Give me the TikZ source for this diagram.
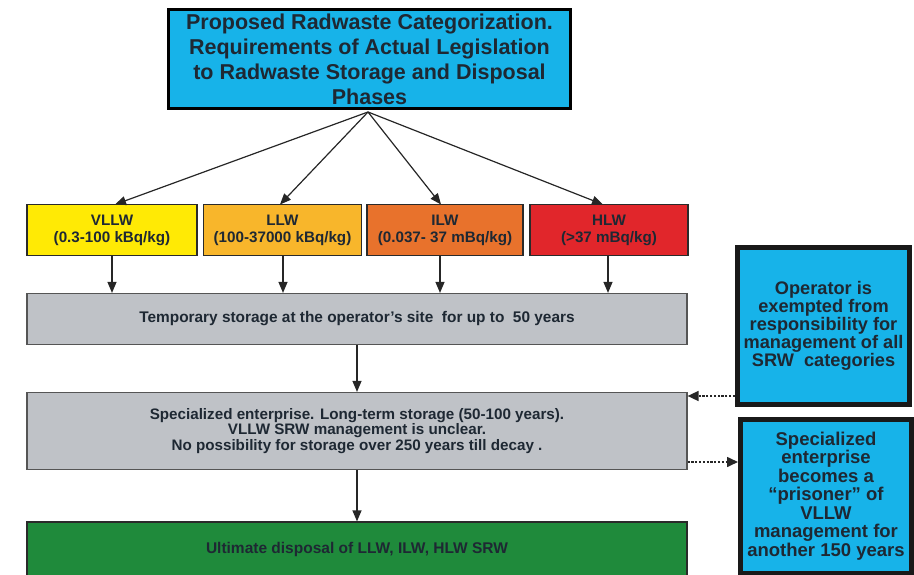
\documentclass[tikz,border=0pt]{standalone}
\usepackage{fontspec}
\setmainfont{Liberation Sans}
\usetikzlibrary{arrows.meta}

\definecolor{skyfill}{HTML}{17B3E9}
\definecolor{inkdark}{HTML}{1E2833}
\definecolor{vllwfill}{HTML}{FFEA05}
\definecolor{llwfill}{HTML}{F8B62B}
\definecolor{ilwfill}{HTML}{E8722C}
\definecolor{hlwfill}{HTML}{E1262B}
\definecolor{stepgray}{HTML}{BFC2C7}
\definecolor{finalgreen}{HTML}{1F8A3B}
\definecolor{edgedark}{HTML}{2A2A2A}

\tikzset{
  headbox/.style={draw=black, line width=3pt, fill=skyfill, text=inkdark,
    font=\bfseries\fontsize{21.5}{25}\selectfont, align=center,
    minimum width=402pt, minimum height=99pt, inner sep=0pt},
  sidebox/.style={draw=black!90, line width=5pt, fill=skyfill, text=inkdark,
    align=center, inner sep=0pt},
  catbox/.style={draw=edgedark, line width=1.3pt, text=inkdark,
    font=\bfseries\fontsize{15.2}{17}\selectfont, align=center,
    minimum height=51pt, inner sep=0pt},
  stagebox/.style={draw=edgedark!80, line width=1.2pt, fill=stepgray, text=inkdark,
    align=center, minimum width=660pt, inner sep=0pt},
  flow/.style={draw=black!85, line width=1.2pt, -{Triangle[length=11pt,width=9pt]}},
  dotflow/.style={draw=black!85, line width=1.6pt, dash pattern=on 2.2pt off 1.6pt,
    -{Triangle[length=11pt,width=10pt]}}
}

\begin{document}
\begin{tikzpicture}[x=1pt,y=-1pt]
\useasboundingbox (0,0) rectangle (914,575);

% title box
\node[headbox] (head) at (369.5,59)
  {Proposed Radwaste Categorization.\\
   Requirements of Actual Legislation\\
   to Radwaste Storage and Disposal\\
   Phases};
\coordinate (fan) at (368,112);

% waste categories
\node[catbox, fill=vllwfill, minimum width=170pt] (vllw) at (112,230)
  {VLLW\\(0.3-100 kBq/kg)};
\node[catbox, fill=llwfill, minimum width=158pt] (llw) at (282.5,230)
  {LLW\\(100-37000 kBq/kg)};
\node[catbox, fill=ilwfill, minimum width=156pt] (ilw) at (445,230)
  {ILW\\(0.037- 37 mBq/kg)};
\node[catbox, fill=hlwfill, minimum width=158pt] (hlw) at (609,230)
  {HLW\\(>37 mBq/kg)};

% storage and disposal stages
\node[stagebox, minimum height=51pt, font=\bfseries\fontsize{15.4}{17}\selectfont]
  (temp) at (357,319)
  {Temporary storage at the operator's site\ \ for up to\ \ 50 years};
\node[stagebox, minimum height=77pt, font=\bfseries\fontsize{15.2}{15.5}\selectfont]
  (longterm) at (357,431)
  {Specialized enterprise. Long-term storage (50-100 years).\\
   VLLW SRW management is unclear.\\
   No possibility for storage over 250 years till decay .};
\node[stagebox, fill=finalgreen, draw=edgedark, minimum height=54pt,
  font=\bfseries\fontsize{15.5}{17}\selectfont] (final) at (357,549)
  {Ultimate disposal of LLW, ILW, HLW SRW};

% consequences
\node[sidebox, minimum width=172pt, minimum height=156pt,
  font=\bfseries\fontsize{18.2}{18}\selectfont] (exempt) at (823.5,326)
  {Operator is\\exempted from\\responsibility for\\management of all\\SRW\ \ categories};
\node[sidebox, minimum width=171pt, minimum height=154pt,
  font=\bfseries\fontsize{18.5}{18.5}\selectfont] (prisoner) at (826,496)
  {Specialized\\enterprise\\becomes a\\``prisoner'' of\\VLLW\\management for\\another 150 years};

% connectors
\draw[flow] (fan) -- (115,204.5);
\draw[flow] (fan) -- (280,204.5);
\draw[flow] (fan) -- (441,204.5);
\draw[flow] (fan) -- (603,204.5);

\draw[flow] (vllw.south -| 112,0) -- (temp.north -| 112,0);
\draw[flow] (llw.south -| 283,0) -- (temp.north -| 283,0);
\draw[flow] (ilw.south -| 440,0) -- (temp.north -| 440,0);
\draw[flow] (hlw.south -| 608,0) -- (temp.north -| 608,0);

\draw[flow] (temp) -- (longterm);
\draw[flow] (longterm) -- (final);

\draw[dotflow] (exempt.west |- 0,396) -- (longterm.east |- 0,396);
\draw[dotflow] (longterm.east |- 0,462) -- (prisoner.west |- 0,462);
\end{tikzpicture}
\end{document}
